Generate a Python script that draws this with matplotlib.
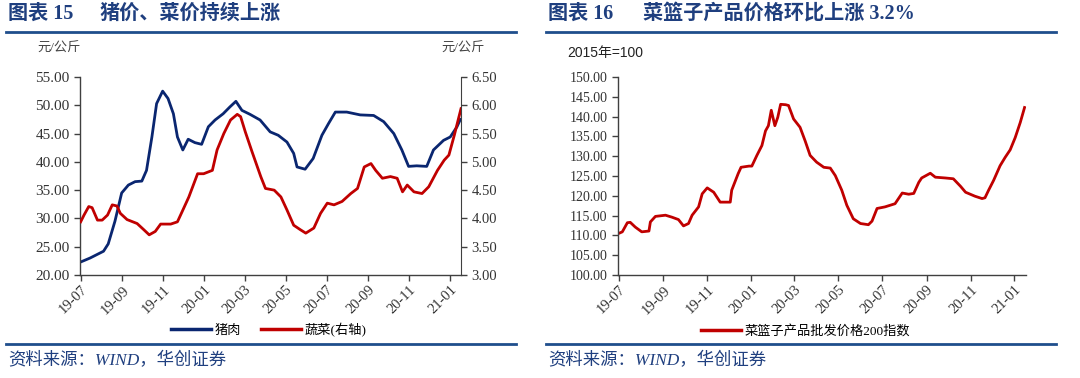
import matplotlib
matplotlib.use("Agg")
import matplotlib.pyplot as plt
from matplotlib.lines import Line2D
import pandas as pd

plt.rcParams['font.family'] = ['Liberation Serif', 'Noto Sans CJK SC', 'DejaVu Sans']

# ---------------- data ----------------
pork_dates = ["2019-07-01", "2019-07-15", "2019-08-04", "2019-08-11", "2019-08-21", "2019-08-31",
              "2019-09-10", "2019-09-20", "2019-09-30", "2019-10-07", "2019-10-15", "2019-10-22",
              "2019-10-31", "2019-11-08", "2019-11-16", "2019-11-22", "2019-11-30", "2019-12-08",
              "2019-12-18", "2019-12-28", "2020-01-07", "2020-01-17", "2020-01-29", "2020-02-08",
              "2020-02-17", "2020-02-26", "2020-03-09", "2020-03-24", "2020-04-08", "2020-04-20",
              "2020-05-03", "2020-05-13", "2020-05-18", "2020-05-30", "2020-06-11", "2020-06-24",
              "2020-07-04", "2020-07-14", "2020-07-31", "2020-08-20", "2020-09-09", "2020-09-24",
              "2020-10-09", "2020-10-21", "2020-10-31", "2020-11-12", "2020-11-27", "2020-12-07",
              "2020-12-22", "2021-01-01", "2021-01-11", "2021-01-16"]
pork_price = [22.3, 23.0, 24.2, 25.5, 29.5, 34.5,
              35.9, 36.5, 36.6, 38.5, 44.4, 50.3,
              52.5, 51.2, 48.5, 44.4, 42.1, 44.0,
              43.4, 43.1, 46.2, 47.4, 48.5, 49.7,
              50.7, 49.1, 48.4, 47.4, 45.3, 44.7,
              43.5, 41.5, 39.1, 38.7, 40.6, 44.7,
              46.8, 48.8, 48.8, 48.3, 48.2, 47.1,
              45.0, 42.1, 39.2, 39.3, 39.2, 42.1,
              43.8, 44.4, 46.2, 47.5]

veg_dates = ["2019-07-01", "2019-07-06", "2019-07-13", "2019-07-18", "2019-07-26", "2019-08-02",
             "2019-08-10", "2019-08-17", "2019-08-24", "2019-08-29", "2019-09-08", "2019-09-23",
             "2019-10-03", "2019-10-11", "2019-10-20", "2019-10-28", "2019-11-12", "2019-11-22",
             "2019-11-29", "2019-12-09", "2019-12-22", "2019-12-31", "2020-01-13", "2020-01-20",
             "2020-01-30", "2020-02-09", "2020-02-19", "2020-02-24", "2020-03-02", "2020-03-12",
             "2020-03-25", "2020-04-01", "2020-04-14", "2020-04-24", "2020-05-03", "2020-05-13",
             "2020-05-23", "2020-05-31", "2020-06-12", "2020-06-22", "2020-07-02", "2020-07-12",
             "2020-07-24", "2020-08-06", "2020-08-16", "2020-08-26", "2020-09-05", "2020-09-12",
             "2020-09-22", "2020-10-04", "2020-10-14", "2020-10-22", "2020-10-29", "2020-11-08",
             "2020-11-20", "2020-11-30", "2020-12-13", "2020-12-23", "2020-12-30", "2021-01-07",
             "2021-01-17"]
veg_price = [3.94, 4.06, 4.21, 4.19, 3.97, 3.97,
             4.06, 4.24, 4.22, 4.09, 3.98, 3.91,
             3.80, 3.71, 3.77, 3.90, 3.90, 3.94,
             4.12, 4.38, 4.79, 4.79, 4.85, 5.21,
             5.50, 5.74, 5.84, 5.80, 5.53, 5.18,
             4.74, 4.53, 4.50, 4.38, 4.15, 3.88,
             3.80, 3.74, 3.83, 4.09, 4.27, 4.24,
             4.30, 4.44, 4.53, 4.91, 4.97, 4.85,
             4.71, 4.74, 4.71, 4.47, 4.59, 4.47,
             4.44, 4.56, 4.85, 5.03, 5.12, 5.47,
             5.94]

basket_dates = ["2019-07-01", "2019-07-06", "2019-07-13", "2019-07-17", "2019-07-24", "2019-08-02",
                "2019-08-12", "2019-08-14", "2019-08-21", "2019-09-04", "2019-09-13", "2019-09-22",
                "2019-09-29", "2019-10-06", "2019-10-11", "2019-10-20", "2019-10-25", "2019-11-01",
                "2019-11-10", "2019-11-19", "2019-12-03", "2019-12-05", "2019-12-14", "2019-12-18",
                "2019-12-29", "2020-01-02", "2020-01-09", "2020-01-16", "2020-01-21", "2020-01-25",
                "2020-01-29", "2020-02-03", "2020-02-07", "2020-02-11", "2020-02-18", "2020-02-22",
                "2020-02-29", "2020-03-09", "2020-03-16", "2020-03-23", "2020-04-01", "2020-04-11",
                "2020-04-20", "2020-04-27", "2020-05-06", "2020-05-13", "2020-05-22", "2020-06-01",
                "2020-06-12", "2020-06-17", "2020-06-24", "2020-07-05", "2020-07-19", "2020-07-29",
                "2020-08-07", "2020-08-14", "2020-08-21", "2020-08-25", "2020-09-06", "2020-09-13",
                "2020-09-27", "2020-10-08", "2020-10-18", "2020-10-25", "2020-11-07", "2020-11-17",
                "2020-11-21", "2020-11-26", "2020-12-03", "2020-12-12", "2020-12-19", "2020-12-26",
                "2021-01-02", "2021-01-09", "2021-01-15"]
basket_index = [110.5, 110.9, 113.2, 113.3, 112.1, 110.9,
                111.1, 113.4, 114.8, 115.1, 114.6, 114.0,
                112.4, 113.0, 115.1, 117.2, 120.5, 122.0,
                120.9, 118.4, 118.4, 121.4, 125.6, 127.2,
                127.5, 127.5, 130.2, 132.7, 136.4, 137.7,
                141.6, 137.7, 139.8, 143.1, 143.0, 142.8,
                139.4, 137.3, 133.9, 130.2, 128.5, 127.2,
                127.0, 125.1, 121.4, 117.6, 114.2, 113.0,
                112.7, 113.6, 116.8, 117.2, 118.0, 120.7,
                120.4, 120.6, 123.4, 124.5, 125.7, 124.7,
                124.5, 124.3, 122.4, 120.9, 119.9, 119.3,
                119.5, 121.4, 123.9, 127.6, 129.7, 131.6,
                134.7, 138.5, 142.3]

x_tick_dates = ["2019-07-01", "2019-09-01", "2019-11-01", "2020-01-01", "2020-03-01",
                "2020-05-01", "2020-07-01", "2020-09-01", "2020-11-01", "2021-01-01"]
x_tick_labels = ["19-07", "19-09", "19-11", "20-01", "20-03", "20-05", "20-07", "20-09", "20-11", "21-01"]

left_title_no = "图表 15"
left_title = "猪价、菜价持续上涨"
right_title_no = "图表 16"
right_title = "菜篮子产品价格环比上涨 3.2%"
source_text = "资料来源：WIND，华创证券"

# ---------------- style ----------------
NAVY = "#0A2670"
RED = "#C00000"
HEAD = "#1F3F7F"
RULE = "#1F4E8C"
TXT = "#333333"
W, H = 1080, 378

fig = plt.figure(figsize=(W / 100, H / 100), dpi=100)

def fx(px):
    return px / W

def fy(py):
    return 1 - py / H

xt = pd.to_datetime(x_tick_dates)
xlim = (pd.Timestamp("2019-06-30"), pd.Timestamp("2021-01-17"))

def style_axis(ax, tick_size):
    for s in ["top", "right"]:
        ax.spines[s].set_visible(False)
    for s in ["left", "bottom"]:
        ax.spines[s].set_color("#404040")
        ax.spines[s].set_linewidth(1.0)
    ax.set_xticks(xt)
    ax.set_xticklabels(x_tick_labels, rotation=45, ha="right", rotation_mode="anchor",
                       fontsize=tick_size, color=TXT)
    ax.tick_params(axis="both", direction="out", length=4, width=1.0, color="#404040",
                   labelcolor=TXT, labelsize=tick_size)
    ax.tick_params(axis="x", pad=2)
    ax.set_xlim(*xlim)

# ---------- left chart ----------
axL = fig.add_axes([fx(80), fy(275), fx(461) - fx(80), fy(77) - fy(275)])
axR = axL.twinx()
axL.plot(pd.to_datetime(pork_dates), pork_price, color=NAVY, lw=2.0, solid_joinstyle="round")
axR.plot(pd.to_datetime(veg_dates), veg_price, color=RED, lw=2.0, solid_joinstyle="round")
style_axis(axL, 10.5)
yl = [20, 25, 30, 35, 40, 45, 50, 55]
axL.set_ylim(20, 55)
axL.set_yticks(yl)
axL.set_yticklabels([f"{v:.2f}" for v in yl])
axL.tick_params(axis="y", labelsize=11)
yr = [3.0, 3.5, 4.0, 4.5, 5.0, 5.5, 6.0, 6.5]
axR.set_ylim(3.0, 6.5)
axR.set_yticks(yr)
axR.set_yticklabels([f"{v:.2f}" for v in yr])
axR.spines["top"].set_visible(False)
axR.spines["left"].set_visible(False)
axR.spines["bottom"].set_visible(False)
axR.spines["right"].set_color("#404040")
axR.tick_params(axis="y", direction="out", length=4, width=1.0, color="#404040",
                labelcolor=TXT, labelsize=10.5)
axR.set_xlim(*xlim)

fig.text(fx(37), fy(49), "元/公斤", fontsize=9.5, color="#444444", va="center", ha="left")
fig.text(fx(441), fy(49), "元/公斤", fontsize=9.5, color="#444444", va="center", ha="left")

handlesL = [Line2D([], [], color=NAVY, lw=2.5), Line2D([], [], color=RED, lw=2.5)]
fig.legend(handlesL, ["猪肉", "蔬菜(右轴)"], loc="center", bbox_to_anchor=(fx(269), fy(330)),
           ncol=2, frameon=False, fontsize=9.5, handlelength=3.0, handletextpad=0.3,
           columnspacing=1.5)

# ---------- right chart ----------
axB = fig.add_axes([fx(618), fy(275), fx(1026) - fx(618), fy(77) - fy(275)])
axB.plot(pd.to_datetime(basket_dates), basket_index, color=RED, lw=2.0, solid_joinstyle="round")
style_axis(axB, 10.5)
axB.set_ylim(100, 150)
yb = [100, 105, 110, 115, 120, 125, 130, 135, 140, 145, 150]
axB.set_yticks(yb)
axB.set_yticklabels([f"{v:.2f}" for v in yb])
axB.tick_params(axis="y", labelsize=10)
fig.text(fx(567), fy(53), "2015年=100", fontsize=10, color="#222222", va="center", ha="left",
         family=["Liberation Sans", "Noto Sans CJK SC"])
handlesB = [Line2D([], [], color=RED, lw=2.5)]
fig.legend(handlesB, ["菜篮子产品批发价格200指数"], loc="center", bbox_to_anchor=(fx(806), fy(331)),
           frameon=False, fontsize=9.5, handlelength=3.0, handletextpad=0.3)

# ---------- titles, rules, sources ----------
for x0, x1, no, title, tx in [(6, 516, left_title_no, left_title, 100),
                              (546, 1056, right_title_no, right_title, 643)]:
    fig.text(fx(x0 + 2), fy(14), no, fontsize=14.5, weight="bold", color=HEAD,
             va="center", ha="left")
    fig.text(fx(tx), fy(14), title, fontsize=14.5, weight="bold", color=HEAD,
             va="center", ha="left")
    fig.add_artist(Line2D([fx(x0), fx(x1)], [fy(32), fy(32)], color=RULE, lw=2.0))
    fig.add_artist(Line2D([fx(x0), fx(x1)], [fy(344), fy(344)], color=RULE, lw=2.0))
    fig.text(fx(x0 + 2), fy(361), source_text, fontsize=12.5, color=HEAD, style="italic",
             va="center", ha="left")

fig.savefig("out.png", dpi=100)
